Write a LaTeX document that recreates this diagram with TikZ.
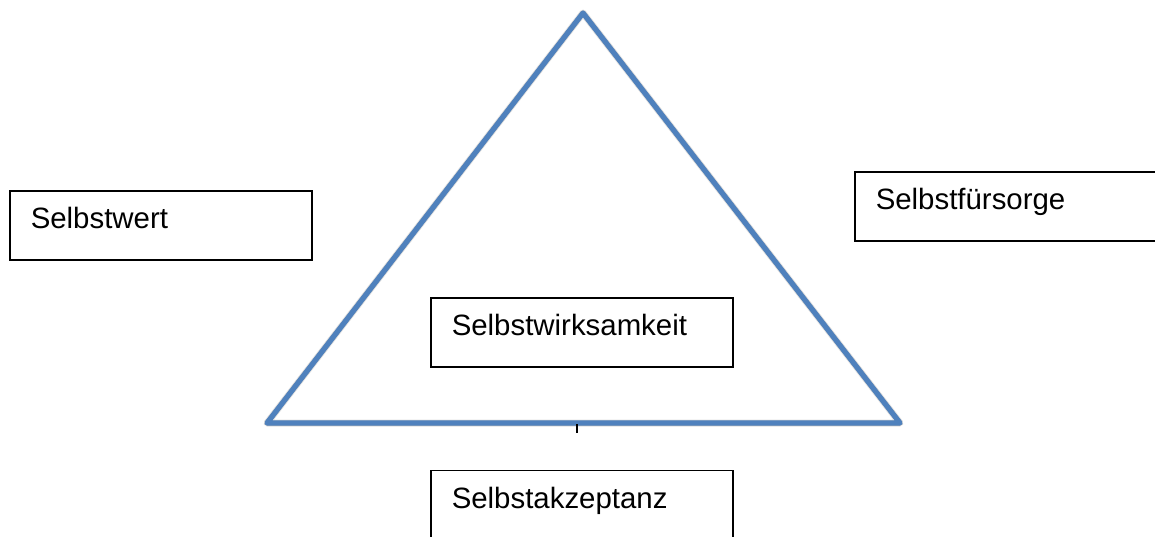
\documentclass[tikz,border=0pt]{standalone}
\usepackage{fontspec}
\setmainfont{Liberation Sans}
\usepackage{tikz}
\usetikzlibrary{positioning}
\definecolor{triblue}{RGB}{79,129,189}
\newcommand{\boxfont}{\fontsize{14.7}{17}\selectfont}
\tikzstyle{box}=[%
      rectangle, draw=black, line width=0.75pt, fill=white,
      inner xsep=10.5pt, inner ysep=0pt, text width=130pt,
      text height=19pt, text depth=15.5pt, align=left, font=\boxfont
]
\tikzstyle{tri}=[%
      draw=triblue, line width=2.6pt, line join=round
]
\tikzstyle{trishadow}=[%
      draw=black, line width=2.5pt, line join=round
]
\begin{document}
\begin{tikzpicture}[x=0.5pt, y=-0.5pt]
    \useasboundingbox (0,0) rectangle (1155,536);

    \coordinate (top) at (583,13);
    \coordinate (bl)  at (267,423);
    \coordinate (br)  at (900,423);
    \coordinate (tick) at (577,424);

    % shadow of the triangle
    \draw[trishadow, opacity=0.12, line width=3.5pt, shift={(2,7)}] (top) -- (br) -- (bl) -- cycle;
    \draw[trishadow, opacity=0.28, shift={(1,4)}] (top) -- (br) -- (bl) -- cycle;
    \draw[tri] (top) -- (br) -- (bl) -- cycle;

    \node[box, anchor=north west] (wert) at (9,190)   {Selbstwert};
    \node[box, anchor=north west] (fuer) at (854,171) {Selbstfürsorge};
    \node[box, anchor=north west] (wirk) at (430,297) {Selbstwirksamkeit};
    \node[box, anchor=north]      (akz)  [below=51pt of wirk] {Selbstakzeptanz};

    \draw[line width=1pt] (tick) -- ++(0,9);
\end{tikzpicture}
\end{document}
